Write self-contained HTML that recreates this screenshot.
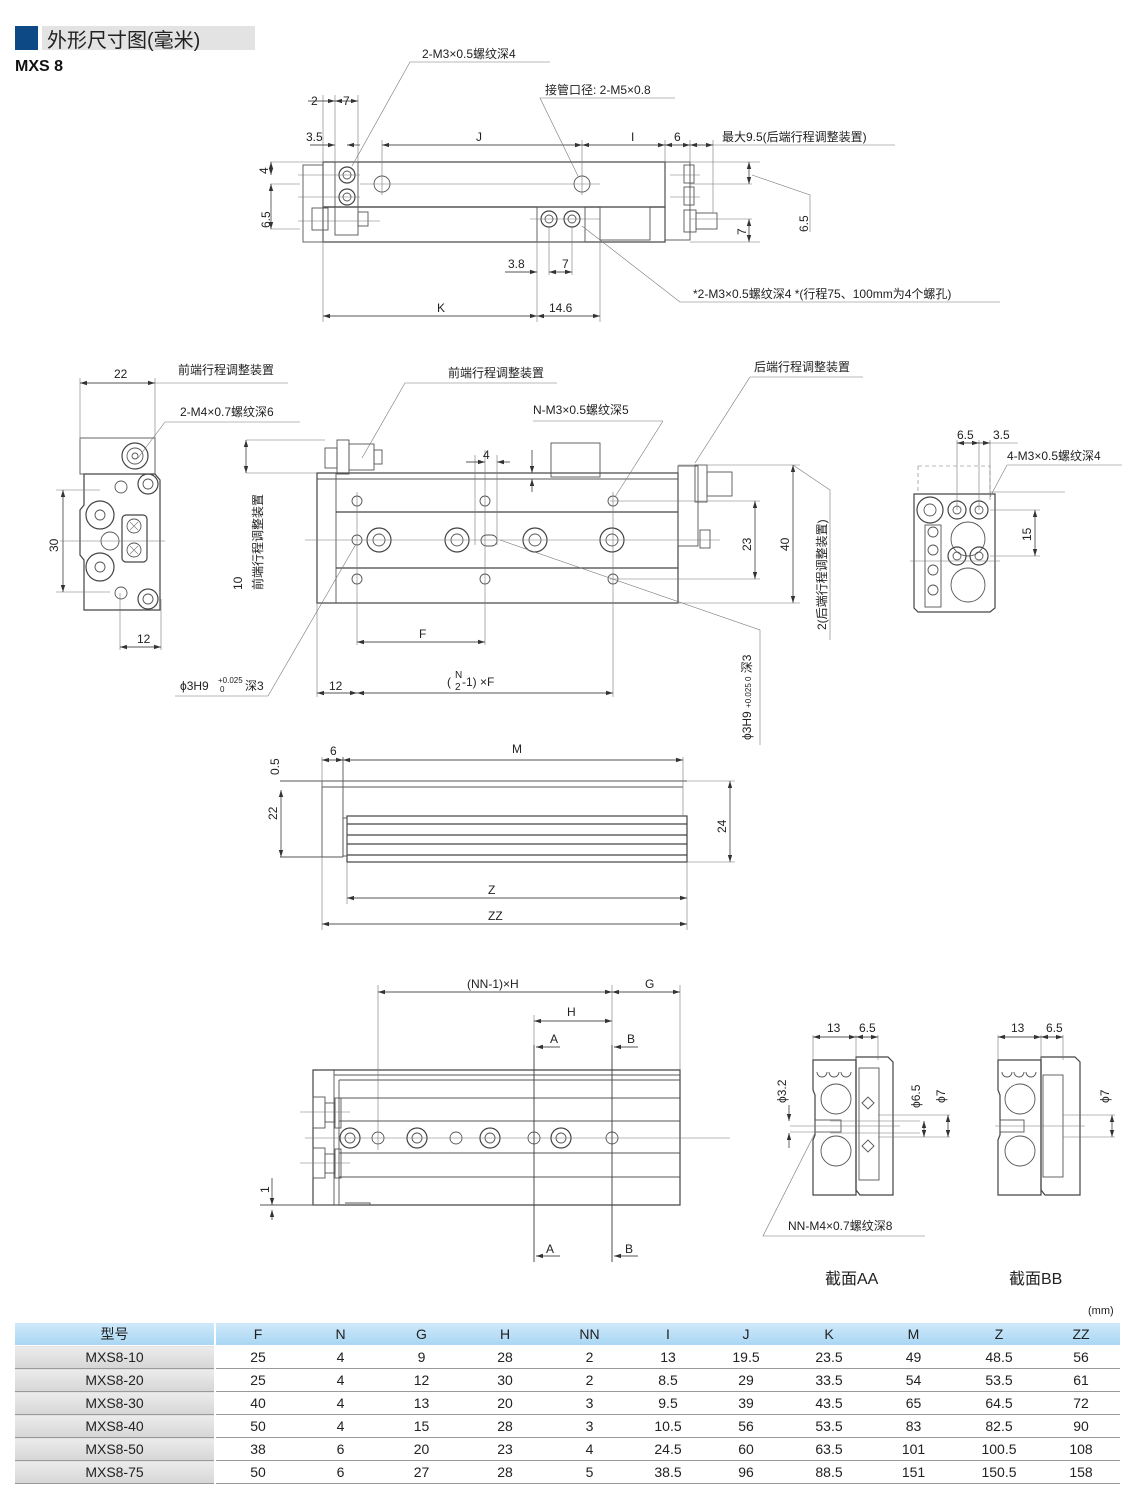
<!DOCTYPE html>
<html><head><meta charset="utf-8">
<style>
html,body{margin:0;padding:0;background:#fff;}
body{width:1140px;height:1504px;position:relative;overflow:hidden;font-family:"Liberation Sans","Noto Sans CJK SC",sans-serif;}
svg{position:absolute;left:0;top:0;}
svg text{font-family:"Liberation Sans","Noto Sans CJK SC",sans-serif;fill:#222;font-size:12px;}
.l{stroke:#555;stroke-width:0.9;fill:none;}
.b{stroke:#444;stroke-width:1.2;fill:none;}
.t{stroke:#777;stroke-width:0.6;fill:none;}
table{position:absolute;left:15px;top:1323px;border-collapse:collapse;font-size:14px;color:#222;}
td{height:22px;padding:0;text-align:center;border-bottom:1px solid #999;line-height:22px;}
tr.h td{background:linear-gradient(#cfe9fb,#a9d6f3);border-bottom:1px solid #fff;}
td.m{background:linear-gradient(#ececec,#d6d6d6);border-right:2px solid #fff;}
tr.h td.m{background:linear-gradient(#cfe9fb,#a9d6f3);}
</style></head><body>
<div style="position:absolute;left:15px;top:26px;width:23px;height:24px;background:#0d4a85"></div>
<div style="position:absolute;left:42px;top:26px;width:213px;height:24px;background:#e3e3e3"></div>
<div style="position:absolute;left:47px;top:24px;font-size:20px;color:#222;font-family:'Liberation Sans','Noto Sans CJK SC',sans-serif">外形尺寸图(毫米)</div>
<div style="position:absolute;left:15px;top:58px;font-size:16px;font-weight:bold;color:#111">MXS 8</div>

<svg width="1140" height="1320" viewBox="0 0 1140 1320">
<defs><marker id="a" markerWidth="8" markerHeight="6" refX="8" refY="3" orient="auto-start-reverse"><path d="M0,0.5 L8,3 L0,5.5z" fill="#333"/></marker></defs>

<!-- VIEW 1 -->
<g>
<rect class="b" x="323" y="162" width="342" height="45"/>
<rect class="b" x="323" y="207" width="342" height="35"/>
<rect class="l" x="303" y="165" width="20" height="77"/>
<rect class="l" x="335" y="162" width="23" height="73"/>
<circle class="b" cx="347" cy="175" r="8"/><circle class="l" cx="347" cy="175" r="4"/>
<circle class="b" cx="347" cy="197" r="8"/><circle class="l" cx="347" cy="197" r="4"/>
<circle class="l" cx="382" cy="184" r="8"/><circle class="l" cx="582" cy="184" r="8"/>
<rect class="l" x="312" y="208" width="16" height="22"/><rect class="l" x="358" y="212" width="10" height="14"/>
<rect class="l" x="537" y="207" width="48" height="35"/>
<circle class="b" cx="549" cy="219" r="8"/><circle class="l" cx="549" cy="219" r="4"/>
<circle class="b" cx="572" cy="219" r="8"/><circle class="l" cx="572" cy="219" r="4"/>
<rect class="l" x="600" y="207" width="50" height="33"/>
<rect class="l" x="665" y="162" width="25" height="78"/>
<rect class="l" x="684" y="165" width="10" height="18"/><rect class="l" x="684" y="187" width="10" height="18"/>
<rect class="l" x="684" y="210" width="12" height="22"/><rect class="l" x="696" y="213" width="21" height="16"/>
<path class="t" d="M298,175H360 M298,197H360 M360,184H600 M298,221H380 M530,219H600 M690,219H752 M670,175H700 M670,197H700"/>
<path class="t" d="M323,95V322 M335,95V162 M358,95V162 M382,140V195 M582,140V195 M665,140V162 M690,140V162 M713,140V213 M537,240V275 M549,226V275 M572,226V275 M600,240V322 M270,162H323 M270,184H300 M690,162H760 M690,184H752 M690,242H760 M270,229H300"/>
<line class="l" x1="308" y1="101" x2="335" y2="101" marker-end="url(#a)"/><line class="l" x1="335" y1="101" x2="358" y2="101" marker-start="url(#a)" marker-end="url(#a)"/>
<text x="311" y="105">2</text><text x="343" y="105">7</text>
<line class="l" x1="310" y1="145" x2="335" y2="145" marker-end="url(#a)"/><line class="l" x1="347" y1="145" x2="360" y2="145" marker-start="url(#a)"/>
<text x="306" y="141">3.5</text>
<line class="l" x1="382" y1="145" x2="582" y2="145" marker-start="url(#a)" marker-end="url(#a)"/><text x="476" y="141">J</text>
<line class="l" x1="582" y1="145" x2="665" y2="145" marker-start="url(#a)" marker-end="url(#a)"/><text x="631" y="141">I</text>
<line class="l" x1="665" y1="145" x2="690" y2="145" marker-start="url(#a)" marker-end="url(#a)"/><text x="674" y="141">6</text>
<line class="l" x1="690" y1="145" x2="713" y2="145" marker-start="url(#a)" marker-end="url(#a)"/>
<line class="t" x1="713" y1="145" x2="895" y2="145"/>
<text x="722" y="141">最大9.5(后端行程调整装置)</text>
<line class="l" x1="271" y1="162" x2="271" y2="175" marker-start="url(#a)" marker-end="url(#a)"/>
<line class="l" x1="271" y1="184" x2="271" y2="229" marker-start="url(#a)" marker-end="url(#a)"/>
<text transform="translate(268,174) rotate(-90)">4</text>
<text transform="translate(270,228) rotate(-90)">6.5</text>
<line class="l" x1="749" y1="162" x2="749" y2="184" marker-start="url(#a)" marker-end="url(#a)"/>
<line class="l" x1="749" y1="219" x2="749" y2="242" marker-start="url(#a)" marker-end="url(#a)"/>
<text transform="translate(746,235) rotate(-90)">7</text>
<text transform="translate(808,232) rotate(-90)">6.5</text>
<path class="t" d="M752,175L810,195V232"/>
<line class="l" x1="505" y1="272" x2="537" y2="272" marker-end="url(#a)"/><line class="l" x1="549" y1="272" x2="572" y2="272" marker-start="url(#a)" marker-end="url(#a)"/>
<text x="508" y="268">3.8</text><text x="562" y="268">7</text>
<line class="l" x1="323" y1="316" x2="537" y2="316" marker-start="url(#a)" marker-end="url(#a)"/>
<line class="l" x1="537" y1="316" x2="600" y2="316" marker-start="url(#a)" marker-end="url(#a)"/>
<line class="t" x1="537" y1="275" x2="537" y2="322"/>
<text x="437" y="312">K</text><text x="549" y="312">14.6</text>
<text x="422" y="58">2-M3×0.5螺纹深4</text><path class="t" d="M550,62H410L352,166"/>
<text x="545" y="94">接管口径: 2-M5×0.8</text><path class="t" d="M675,98H540L578,176"/>
<text x="693" y="298">*2-M3×0.5螺纹深4 *(行程75、100mm为4个螺孔)</text><path class="t" d="M1000,302H680L582,226"/>
</g>

<!-- VIEW 2 LEFT -->
<g>
<rect class="l" x="80" y="438" width="75" height="36"/>
<path class="b" d="M84,474H155L160,480V610H84V560L80,555V510L84,505Z"/>
<circle class="b" cx="135" cy="456" r="13"/><circle class="l" cx="135" cy="456" r="8"/><circle class="l" cx="135" cy="456" r="3"/>
<circle class="b" cx="148" cy="484" r="10"/><circle class="l" cx="148" cy="484" r="5"/>
<circle class="l" cx="121" cy="487" r="6"/>
<circle class="b" cx="100" cy="515" r="14"/><circle class="l" cx="100" cy="515" r="5"/>
<circle class="b" cx="100" cy="567" r="14"/><circle class="l" cx="100" cy="567" r="5"/>
<circle class="l" cx="110" cy="541" r="9"/>
<rect class="b" x="122" y="515" width="25" height="47" rx="4"/>
<circle class="l" cx="134" cy="526" r="7"/><circle class="l" cx="134" cy="550" r="7"/>
<path class="t" d="M130,522l8,8m0,-8l-8,8M130,546l8,8m0,-8l-8,8"/>
<circle class="l" cx="121" cy="593" r="6"/>
<circle class="b" cx="148" cy="599" r="10"/><circle class="l" cx="148" cy="599" r="5"/>
<path class="t" d="M60,541H165 M80,378V440 M155,378V438 M56,490H100 M56,592H110 M120,593V650 M161,599V650 M155,383H288"/>
<line class="l" x1="80" y1="383" x2="155" y2="383" marker-start="url(#a)" marker-end="url(#a)"/><text x="114" y="378">22</text>
<line class="l" x1="63" y1="490" x2="63" y2="592" marker-start="url(#a)" marker-end="url(#a)"/><text transform="translate(58,552) rotate(-90)">30</text>
<line class="l" x1="120" y1="647" x2="161" y2="647" marker-start="url(#a)" marker-end="url(#a)"/><text x="137" y="643">12</text>
<text x="178" y="374">前端行程调整装置</text>
<text x="180" y="416">2-M4×0.7螺纹深6</text><path class="t" d="M300,422H165L138,458"/>
</g>

<!-- VIEW 2 MAIN -->
<g>
<rect class="b" x="317" y="473" width="361" height="130"/>
<path class="l" d="M336,473V603 M317,479H678 M336,512H678 M336,568H678"/>
<path class="b" d="M336,512H678 M336,568H678"/>
<rect class="l" x="551" y="443" width="49" height="34"/>
<rect class="l" x="325" y="448" width="12" height="20"/><rect class="l" x="337" y="440" width="12" height="34"/><rect class="l" x="349" y="444" width="25" height="26"/><rect class="l" x="374" y="450" width="8" height="14"/>
<rect class="l" x="678" y="466" width="20" height="80"/><rect class="l" x="695" y="465" width="12" height="37"/><rect class="l" x="707" y="472" width="25" height="24"/>
<rect class="l" x="700" y="530" width="10" height="18"/>
<g class="l">
<circle cx="357" cy="501" r="5"/><circle cx="485" cy="501" r="5"/><circle cx="613" cy="501" r="5"/>
<circle cx="357" cy="540" r="5"/>
<circle cx="357" cy="579" r="5"/><circle cx="485" cy="579" r="5"/><circle cx="613" cy="579" r="5"/>
<circle cx="379" cy="540" r="6"/><circle cx="457" cy="540" r="6"/><circle cx="535" cy="540" r="6"/><circle cx="612" cy="540" r="6"/>
<rect x="481" y="535" width="16" height="11" rx="5.5"/>
</g>
<g class="b"><circle cx="379" cy="540" r="12"/><circle cx="457" cy="540" r="12"/><circle cx="535" cy="540" r="12"/><circle cx="612" cy="540" r="12"/></g>
<path class="t" d="M305,540H720 M357,492V645 M485,450V645 M613,492V697 M317,603V697 M475,455V545 M497,455V545 M610,501H760 M610,579H760 M678,465H800 M678,603H800 M246,473H317 M246,440H325"/>
<line class="l" x1="466" y1="462" x2="485" y2="462" marker-end="url(#a)"/><line class="l" x1="497" y1="462" x2="510" y2="462" marker-start="url(#a)"/><text x="483" y="459">4</text>
<line class="l" x1="532" y1="450" x2="532" y2="473" marker-end="url(#a)"/><line class="l" x1="532" y1="479" x2="532" y2="492" marker-start="url(#a)"/>
<line class="l" x1="755" y1="501" x2="755" y2="579" marker-start="url(#a)" marker-end="url(#a)"/><text transform="translate(751,551) rotate(-90)">23</text>
<line class="l" x1="793" y1="465" x2="793" y2="603" marker-start="url(#a)" marker-end="url(#a)"/><text transform="translate(789,551) rotate(-90)">40</text>
<path class="t" d="M793,465L830,490V640"/>
<text transform="translate(826,630) rotate(-90)">2(后端行程调整装置)</text>
<line class="l" x1="246" y1="440" x2="246" y2="473" marker-start="url(#a)" marker-end="url(#a)"/>
<text transform="translate(242,590) rotate(-90)">10</text><text transform="translate(262,590) rotate(-90)">前端行程调整装置</text>
<line class="l" x1="357" y1="642" x2="485" y2="642" marker-start="url(#a)" marker-end="url(#a)"/><text x="419" y="638">F</text>
<line class="l" x1="317" y1="693" x2="357" y2="693" marker-start="url(#a)" marker-end="url(#a)"/><text x="329" y="690">12</text>
<line class="l" x1="357" y1="693" x2="613" y2="693" marker-start="url(#a)" marker-end="url(#a)"/>
<text x="447" y="686">(</text><text x="455" y="678" style="font-size:10px">N</text><text x="455" y="690" style="font-size:10px">2</text><text x="462" y="686">-1) ×F</text>
<text x="448" y="377">前端行程调整装置</text><path class="t" d="M557,383H405L362,458"/>
<text x="533" y="414">N-M3×0.5螺纹深5</text><path class="t" d="M663,421L615,497"/><line class="t" x1="533" y1="421" x2="663" y2="421"/>
<text x="754" y="371">后端行程调整装置</text><path class="t" d="M863,377H750L695,463"/>
<text x="180" y="690">ϕ3H9</text><text x="218" y="683" style="font-size:8px">+0.025</text><text x="220" y="692" style="font-size:8px">0</text><text x="245" y="690">深3</text>
<path class="t" d="M175,696H268L356,544"/>
<path class="t" d="M760,745V630L500,540"/>
<text transform="translate(751,740) rotate(-90)">ϕ3H9 <tspan style="font-size:8px">+0.025 0</tspan> 深3</text>
</g>

<!-- VIEW 2 RIGHT -->
<g>
<rect class="t" x="918" y="466" width="72" height="28" stroke-dasharray="4,3"/>
<path class="b" d="M914,494H995V608L990,612H918L914,608Z"/>
<circle class="b" cx="930" cy="510" r="13"/><circle class="l" cx="930" cy="510" r="6"/>
<circle class="b" cx="957" cy="510" r="9"/><circle class="l" cx="957" cy="510" r="4"/>
<circle class="b" cx="979" cy="510" r="9"/><circle class="l" cx="979" cy="510" r="4"/>
<circle class="l" cx="968" cy="539" r="17"/>
<circle class="b" cx="957" cy="556" r="9"/><circle class="l" cx="957" cy="556" r="4"/>
<circle class="b" cx="979" cy="556" r="9"/><circle class="l" cx="979" cy="556" r="4"/>
<circle class="l" cx="968" cy="585" r="17"/>
<rect class="l" x="925" y="525" width="16" height="82"/>
<g class="l"><circle cx="933" cy="532" r="5"/><circle cx="933" cy="550" r="5"/><circle cx="933" cy="570" r="5"/><circle cx="933" cy="590" r="5"/></g>
<path class="t" d="M957,440V510 M979,440V510 M990,440V500 M990,492H1065 M990,510H1040 M990,556H1040 M910,561H1000"/>
<line class="l" x1="957" y1="443" x2="979" y2="443" marker-start="url(#a)" marker-end="url(#a)"/>
<line class="l" x1="979" y1="443" x2="990" y2="443" marker-end="url(#a)"/><line class="t" x1="990" y1="443" x2="1018" y2="443"/>
<text x="957" y="439">6.5</text><text x="993" y="439">3.5</text>
<text x="1007" y="460">4-M3×0.5螺纹深4</text><path class="t" d="M1122,465H1007L990,497"/>
<line class="l" x1="1035" y1="510" x2="1035" y2="556" marker-start="url(#a)" marker-end="url(#a)"/><text transform="translate(1031,541) rotate(-90)">15</text>
</g>

<!-- VIEW 3 -->
<g>
<path class="l" d="M280,781H687 M322,787H683 M322,781V857 M343,757V857 M280,857H343"/>
<rect class="b" x="347" y="816" width="340" height="46"/>
<path class="b" d="M347,824H687 M347,835H687 M347,844H687 M347,855H687"/>
<rect class="l" x="343" y="818" width="4" height="38"/>
<path class="t" d="M683,757V816 M687,781H735 M687,862H735 M347,862V904 M687,862V930 M322,857V930 M322,757V787"/>
<line class="l" x1="322" y1="760" x2="343" y2="760" marker-start="url(#a)" marker-end="url(#a)"/><text x="330" y="755">6</text>
<line class="l" x1="343" y1="760" x2="683" y2="760" marker-start="url(#a)" marker-end="url(#a)"/><text x="512" y="753">M</text>
<text transform="translate(279,775) rotate(-90)">0.5</text>
<line class="l" x1="281" y1="790" x2="281" y2="857" marker-start="url(#a)" marker-end="url(#a)"/><text transform="translate(277,820) rotate(-90)">22</text>
<line class="l" x1="730" y1="781" x2="730" y2="862" marker-start="url(#a)" marker-end="url(#a)"/><text transform="translate(726,833) rotate(-90)">24</text>
<line class="l" x1="347" y1="898" x2="687" y2="898" marker-start="url(#a)" marker-end="url(#a)"/><text x="488" y="894">Z</text>
<line class="l" x1="322" y1="924" x2="687" y2="924" marker-start="url(#a)" marker-end="url(#a)"/><text x="488" y="920">ZZ</text>
</g>

<!-- VIEW 4 -->
<g>
<path class="b" d="M313,1070H680V1205H313Z"/>
<path class="l" d="M334,1070V1205 M339,1080H680 M339,1080V1205 M334,1075H680 M339,1098H680 M339,1121H680 M339,1153H680 M339,1177H680"/>
<rect class="l" x="313" y="1097" width="12" height="31"/><rect class="l" x="325" y="1103" width="10" height="19"/><rect class="l" x="335" y="1098" width="6" height="30"/>
<rect class="l" x="313" y="1148" width="12" height="30"/><rect class="l" x="325" y="1154" width="10" height="19"/><rect class="l" x="335" y="1149" width="6" height="29"/>
<path class="l" d="M260,1205H340 M345,1203H370V1205"/>
<g class="b"><circle cx="350" cy="1138" r="10"/><circle cx="417" cy="1138" r="10"/><circle cx="490" cy="1138" r="10"/><circle cx="561" cy="1138" r="10"/></g>
<g class="l"><circle cx="350" cy="1138" r="5"/><circle cx="417" cy="1138" r="5"/><circle cx="490" cy="1138" r="5"/><circle cx="561" cy="1138" r="5"/>
<circle cx="378" cy="1138" r="6"/><circle cx="456" cy="1138" r="6"/><circle cx="534" cy="1138" r="6"/><circle cx="612" cy="1138" r="6"/></g>
<path class="t" d="M305,1138H730 M378,985V1150 M612,985V1262 M534,1015V1262 M680,985V1070 M300,1112H350 M300,1163H350"/>
<path class="b" d="M534,1045V1262 M612,1045V1262" style="stroke-width:0.9"/>
<line class="l" x1="378" y1="992" x2="612" y2="992" marker-start="url(#a)" marker-end="url(#a)"/><text x="467" y="988">(NN-1)×H</text>
<line class="l" x1="612" y1="992" x2="680" y2="992" marker-start="url(#a)" marker-end="url(#a)"/><text x="645" y="988">G</text>
<line class="l" x1="534" y1="1021" x2="612" y2="1021" marker-start="url(#a)" marker-end="url(#a)"/><text x="567" y="1016">H</text>
<line class="l" x1="560" y1="1047" x2="536" y2="1047" marker-end="url(#a)"/><text x="550" y="1043">A</text>
<line class="l" x1="638" y1="1047" x2="614" y2="1047" marker-end="url(#a)"/><text x="627" y="1043">B</text>
<line class="l" x1="560" y1="1256" x2="536" y2="1256" marker-end="url(#a)"/><text x="546" y="1253">A</text>
<line class="l" x1="638" y1="1256" x2="614" y2="1256" marker-end="url(#a)"/><text x="625" y="1253">B</text>
<line class="l" x1="272" y1="1178" x2="272" y2="1205" marker-end="url(#a)"/><line class="l" x1="272" y1="1210" x2="272" y2="1220" marker-start="url(#a)"/>
<text transform="translate(269,1193) rotate(-90)">1</text>
</g>

<!-- SECTION AA -->
<g>
<path class="b" d="M813,1060H856V1195H813V1140L815,1135V1095L813,1090Z"/>
<path class="b" d="M856,1057H888L893,1062V1195H860L856,1190Z"/>
<path class="l" d="M817,1072a5,5 0 0 0 10,0M829,1072a5,5 0 0 0 10,0M841,1072a5,5 0 0 0 10,0"/>
<circle class="l" cx="836" cy="1099" r="15"/><circle class="l" cx="836" cy="1151" r="15"/>
<rect class="l" x="815" y="1120" width="26" height="12"/>
<rect class="l" x="859" y="1068" width="20" height="112"/>
<path class="l" d="M862,1103l6,-6 6,6 -6,6z M862,1146l6,-6 6,6 -6,6z"/>
<path class="t" d="M790,1126H900 M790,1132H830 M813,1035V1060 M856,1035V1060 M878,1035V1060 M878,1115H950 M878,1137H950 M830,1121H920 M830,1133H920"/>
<line class="l" x1="813" y1="1037" x2="856" y2="1037" marker-start="url(#a)" marker-end="url(#a)"/><line class="l" x1="856" y1="1037" x2="878" y2="1037" marker-start="url(#a)" marker-end="url(#a)"/>
<text x="827" y="1032">13</text><text x="859" y="1032">6.5</text>
<line class="l" x1="789" y1="1105" x2="789" y2="1121" marker-end="url(#a)"/><line class="l" x1="789" y1="1148" x2="789" y2="1133" marker-end="url(#a)"/>
<text transform="translate(786,1103) rotate(-90)">ϕ3.2</text>
<line class="l" x1="924" y1="1121" x2="924" y2="1137" marker-start="url(#a)" marker-end="url(#a)"/><text transform="translate(920,1108) rotate(-90)">ϕ6.5</text>
<line class="l" x1="948" y1="1115" x2="948" y2="1137" marker-start="url(#a)" marker-end="url(#a)"/><text transform="translate(945,1103) rotate(-90)">ϕ7</text>
<text x="788" y="1230">NN-M4×0.7螺纹深8</text><path class="t" d="M925,1236H763L815,1133"/>
<text x="825" y="1284" style="font-size:16px">截面AA</text>
</g>
<!-- SECTION BB -->
<g>
<path class="b" d="M998,1060H1041V1195H998V1140L1000,1135V1095L998,1090Z"/>
<path class="b" d="M1041,1057H1075L1080,1062V1195H1045L1041,1190Z"/>
<path class="l" d="M1002,1072a5,5 0 0 0 10,0M1014,1072a5,5 0 0 0 10,0M1026,1072a5,5 0 0 0 10,0"/>
<circle class="l" cx="1020" cy="1099" r="15"/><circle class="l" cx="1020" cy="1151" r="15"/>
<rect class="l" x="1000" y="1120" width="24" height="12"/>
<rect class="l" x="1043" y="1075" width="20" height="102"/>
<path class="t" d="M995,1126H1085 M998,1035V1060 M1041,1035V1060 M1063,1035V1060 M1063,1115H1115 M1063,1137H1115"/>
<line class="l" x1="998" y1="1037" x2="1041" y2="1037" marker-start="url(#a)" marker-end="url(#a)"/><line class="l" x1="1041" y1="1037" x2="1063" y2="1037" marker-start="url(#a)" marker-end="url(#a)"/>
<text x="1011" y="1032">13</text><text x="1046" y="1032">6.5</text>
<line class="l" x1="1112" y1="1115" x2="1112" y2="1137" marker-start="url(#a)" marker-end="url(#a)"/><text transform="translate(1109,1103) rotate(-90)">ϕ7</text>
<text x="1009" y="1284" style="font-size:16px">截面BB</text>
</g>
<text x="1088" y="1314" style="font-size:11px">(mm)</text>
</svg>

<table>
<colgroup><col style="width:200px"><col style="width:85px"><col style="width:81px"><col style="width:81px"><col style="width:86px"><col style="width:83px"><col style="width:74px"><col style="width:82px"><col style="width:84px"><col style="width:85px"><col style="width:86px"><col style="width:78px"></colgroup>
<tr class="h"><td class="m">型号</td><td>F</td><td>N</td><td>G</td><td>H</td><td>NN</td><td>I</td><td>J</td><td>K</td><td>M</td><td>Z</td><td>ZZ</td></tr>
<tr><td class="m">MXS8-10</td><td>25</td><td>4</td><td>9</td><td>28</td><td>2</td><td>13</td><td>19.5</td><td>23.5</td><td>49</td><td>48.5</td><td>56</td></tr>
<tr><td class="m">MXS8-20</td><td>25</td><td>4</td><td>12</td><td>30</td><td>2</td><td>8.5</td><td>29</td><td>33.5</td><td>54</td><td>53.5</td><td>61</td></tr>
<tr><td class="m">MXS8-30</td><td>40</td><td>4</td><td>13</td><td>20</td><td>3</td><td>9.5</td><td>39</td><td>43.5</td><td>65</td><td>64.5</td><td>72</td></tr>
<tr><td class="m">MXS8-40</td><td>50</td><td>4</td><td>15</td><td>28</td><td>3</td><td>10.5</td><td>56</td><td>53.5</td><td>83</td><td>82.5</td><td>90</td></tr>
<tr><td class="m">MXS8-50</td><td>38</td><td>6</td><td>20</td><td>23</td><td>4</td><td>24.5</td><td>60</td><td>63.5</td><td>101</td><td>100.5</td><td>108</td></tr>
<tr><td class="m">MXS8-75</td><td>50</td><td>6</td><td>27</td><td>28</td><td>5</td><td>38.5</td><td>96</td><td>88.5</td><td>151</td><td>150.5</td><td>158</td></tr>
</table>
</body></html>
